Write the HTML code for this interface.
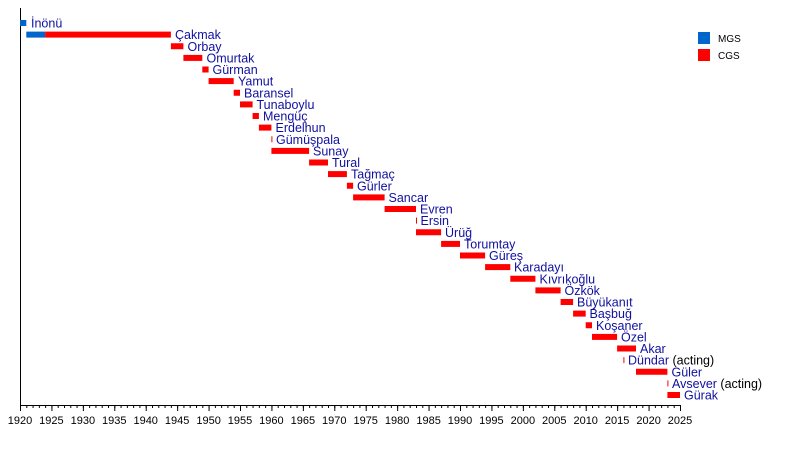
<!DOCTYPE html>
<html><head><meta charset="utf-8"><style>
body{margin:0;background:#fff}
svg{display:block}
.l{font-family:"Liberation Sans",sans-serif;font-size:12.5px;fill:#1010a0}
.a{fill:#000}
.t{font-family:"Liberation Sans",sans-serif;font-size:11px;fill:#000;text-anchor:middle}
</style></head><body>
<svg width="800" height="454" viewBox="0 0 800 454" xmlns="http://www.w3.org/2000/svg">
<defs>
<pattern id="mt" x="20" y="405" width="6.2857" height="3" patternUnits="userSpaceOnUse">
<rect x="0" y="0" width="1" height="3" fill="#000"/>
</pattern>
<pattern id="Mt" x="20" y="405" width="31.4286" height="6" patternUnits="userSpaceOnUse">
<rect x="0" y="0" width="1" height="6" fill="#000"/>
</pattern>
</defs>
<rect x="20" y="8" width="1" height="398" fill="#000"/>
<rect x="20" y="405" width="661" height="1" fill="#000"/>
<rect x="20" y="405" width="661" height="3" fill="url(#mt)"/>
<rect x="20" y="405" width="661" height="6" fill="url(#Mt)"/>
<g class="t">
<text x="20" y="424">1920</text><text x="51.4" y="424">1925</text><text x="82.9" y="424">1930</text><text x="114.3" y="424">1935</text><text x="145.7" y="424">1940</text><text x="177.1" y="424">1945</text><text x="208.6" y="424">1950</text><text x="240" y="424">1955</text><text x="271.4" y="424">1960</text><text x="302.9" y="424">1965</text><text x="334.3" y="424">1970</text><text x="365.7" y="424">1975</text><text x="397.1" y="424">1980</text><text x="428.6" y="424">1985</text><text x="460" y="424">1990</text><text x="491.4" y="424">1995</text><text x="522.9" y="424">2000</text><text x="554.3" y="424">2005</text><text x="585.7" y="424">2010</text><text x="617.1" y="424">2015</text><text x="648.6" y="424">2020</text><text x="680" y="424">2025</text>
</g>
<rect x="698" y="32" width="12" height="12" fill="#0066cc"/>
<text x="718" y="42" class="t" style="text-anchor:start;font-size:10px">MGS</text>
<rect x="698" y="49" width="12" height="12" fill="#ff0000"/>
<text x="718" y="59" class="t" style="text-anchor:start;font-size:10px">CGS</text>

<g transform="translate(0,23)"><rect x="20" y="-3" width="6.3" height="6" fill="#0066cc"/><text class="l" x="31" y="4.5">İnönü</text></g>
<g transform="translate(0,34.6)"><rect x="26.3" y="-3" width="18.8" height="6" fill="#0066cc"/><rect x="45.1" y="-3" width="125.8" height="6" fill="#f00"/><text class="l" x="175" y="4.5">Çakmak</text></g>
<g transform="translate(0,46.25)"><rect x="170.9" y="-3" width="12.5" height="6" fill="#f00"/><text class="l" x="187.5" y="4.5">Orbay</text></g>
<g transform="translate(0,57.9)"><rect x="183.4" y="-3" width="18.9" height="6" fill="#f00"/><text class="l" x="206.5" y="4.5">Omurtak</text></g>
<g transform="translate(0,69.5)"><rect x="202.3" y="-3" width="6.3" height="6" fill="#f00"/><text class="l" x="212.5" y="4.5">Gürman</text></g>
<g transform="translate(0,81.1)"><rect x="208.6" y="-3" width="25.1" height="6" fill="#f00"/><text class="l" x="238" y="4.5">Yamut</text></g>
<g transform="translate(0,92.75)"><rect x="233.7" y="-3" width="6.3" height="6" fill="#f00"/><text class="l" x="244" y="4.5">Baransel</text></g>
<g transform="translate(0,104.4)"><rect x="240" y="-3" width="12.6" height="6" fill="#f00"/><text class="l" x="256.5" y="4.5">Tunaboylu</text></g>
<g transform="translate(0,116)"><rect x="252.6" y="-3" width="6.3" height="6" fill="#f00"/><text class="l" x="263" y="4.5">Mengüç</text></g>
<g transform="translate(0,127.6)"><rect x="258.9" y="-3" width="12.5" height="6" fill="#f00"/><text class="l" x="275.5" y="4.5">Erdelhun</text></g>
<g transform="translate(0,139.25)"><rect x="271.4" y="-3" width="1" height="6" fill="#f00"/><text class="l" x="276" y="4.5">Gümüşpala</text></g>
<g transform="translate(0,150.9)"><rect x="271.4" y="-3" width="37.7" height="6" fill="#f00"/><text class="l" x="313" y="4.5">Sunay</text></g>
<g transform="translate(0,162.5)"><rect x="309.1" y="-3" width="18.9" height="6" fill="#f00"/><text class="l" x="332" y="4.5">Tural</text></g>
<g transform="translate(0,174.1)"><rect x="328" y="-3" width="18.9" height="6" fill="#f00"/><text class="l" x="351" y="4.5">Tağmaç</text></g>
<g transform="translate(0,185.75)"><rect x="346.9" y="-3" width="6.2" height="6" fill="#f00"/><text class="l" x="357" y="4.5">Gürler</text></g>
<g transform="translate(0,197.4)"><rect x="353.1" y="-3" width="31.5" height="6" fill="#f00"/><text class="l" x="388.5" y="4.5">Sancar</text></g>
<g transform="translate(0,209)"><rect x="384.6" y="-3" width="31.4" height="6" fill="#f00"/><text class="l" x="420" y="4.5">Evren</text></g>
<g transform="translate(0,220.6)"><rect x="416" y="-3" width="1" height="6" fill="#f00"/><text class="l" x="420.5" y="4.5">Ersin</text></g>
<g transform="translate(0,232.25)"><rect x="416" y="-3" width="25.1" height="6" fill="#f00"/><text class="l" x="445" y="4.5">Ürüğ</text></g>
<g transform="translate(0,243.9)"><rect x="441.1" y="-3" width="18.9" height="6" fill="#f00"/><text class="l" x="464" y="4.5">Torumtay</text></g>
<g transform="translate(0,255.5)"><rect x="460" y="-3" width="25.1" height="6" fill="#f00"/><text class="l" x="489" y="4.5">Güreş</text></g>
<g transform="translate(0,267.1)"><rect x="485.1" y="-3" width="25.2" height="6" fill="#f00"/><text class="l" x="514" y="4.5">Karadayı</text></g>
<g transform="translate(0,278.75)"><rect x="510.3" y="-3" width="25.1" height="6" fill="#f00"/><text class="l" x="539.5" y="4.5">Kıvrıkoğlu</text></g>
<g transform="translate(0,290.4)"><rect x="535.4" y="-3" width="25.2" height="6" fill="#f00"/><text class="l" x="564.5" y="4.5">Özkök</text></g>
<g transform="translate(0,302)"><rect x="560.6" y="-3" width="12.5" height="6" fill="#f00"/><text class="l" x="577" y="4.5">Büyükanıt</text></g>
<g transform="translate(0,313.6)"><rect x="573.1" y="-3" width="12.6" height="6" fill="#f00"/><text class="l" x="589.5" y="4.5">Başbuğ</text></g>
<g transform="translate(0,325.25)"><rect x="585.7" y="-3" width="6.3" height="6" fill="#f00"/><text class="l" x="596" y="4.5">Koşaner</text></g>
<g transform="translate(0,336.9)"><rect x="592" y="-3" width="25.1" height="6" fill="#f00"/><text class="l" x="621" y="4.5">Özel</text></g>
<g transform="translate(0,348.5)"><rect x="617.1" y="-3" width="18.9" height="6" fill="#f00"/><text class="l" x="640" y="4.5">Akar</text></g>
<g transform="translate(0,360.1)"><rect x="623.4" y="-3" width="1" height="6" fill="#f00"/><text class="l" x="628" y="4.5">Dündar <tspan class="a">(acting)</tspan></text></g>
<g transform="translate(0,371.75)"><rect x="636" y="-3" width="31.4" height="6" fill="#f00"/><text class="l" x="671.5" y="4.5">Güler</text></g>
<g transform="translate(0,383.4)"><rect x="667.4" y="-3" width="1" height="6" fill="#f00"/><text class="l" x="672" y="4.5">Avsever <tspan class="a">(acting)</tspan></text></g>
<g transform="translate(0,395)"><rect x="667.4" y="-3" width="12.6" height="6" fill="#f00"/><text class="l" x="684" y="4.5">Gürak</text></g>
</svg>
</body></html>
